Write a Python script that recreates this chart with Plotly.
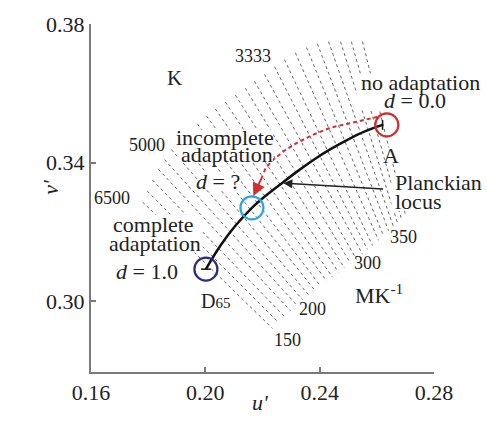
import plotly.graph_objects as go

# ---------------- data ----------------
# iso-temperature lines (mired), top-left and bottom-right ends in (u', v')
iso_mired = [150, 160, 170, 180, 190, 200, 210, 220, 230, 240, 250, 260, 270,
             280, 290, 300, 310, 320, 330, 340, 350, 360, 370, 380, 390]
iso_top_u = [0.1780, 0.1797, 0.1815, 0.1836, 0.1857, 0.1881, 0.1909, 0.1941, 0.1972,
             0.2004, 0.2035, 0.2070, 0.2105, 0.2140, 0.2172, 0.2207, 0.2242, 0.2277,
             0.2315, 0.2354, 0.2392, 0.2431, 0.2473, 0.2511, 0.2550]
iso_top_v = [0.3287, 0.3318, 0.3350, 0.3381, 0.3409, 0.3438, 0.3464, 0.3489, 0.3512,
             0.3535, 0.3555, 0.3575, 0.3595, 0.3615, 0.3635, 0.3655, 0.3677, 0.3697,
             0.3717, 0.3732, 0.3743, 0.3749, 0.3749, 0.3749, 0.3749]
iso_bot_u = [0.2235, 0.2256, 0.2277, 0.2298, 0.2319, 0.2340, 0.2361, 0.2382, 0.2403,
             0.2424, 0.2445, 0.2466, 0.2487, 0.2508, 0.2529, 0.2550, 0.2567, 0.2585,
             0.2606, 0.2623, 0.2641, 0.2658, 0.2672, 0.2686, 0.2700]
iso_bot_v = [0.2922, 0.2939, 0.2956, 0.2973, 0.2990, 0.3005, 0.3019, 0.3033, 0.3044,
             0.3059, 0.3070, 0.3084, 0.3096, 0.3110, 0.3121, 0.3136, 0.3150, 0.3161,
             0.3176, 0.3190, 0.3204, 0.3216, 0.3227, 0.3238, 0.3250]

# Planckian locus between D65 and A
locus_u = [0.2002, 0.2053, 0.2105, 0.2163, 0.2210, 0.2263, 0.2322, 0.2378,
           0.2438, 0.2497, 0.2560, 0.2620]
locus_v = [0.3093, 0.3161, 0.3218, 0.3270, 0.3304, 0.3338, 0.3375, 0.3408,
           0.3439, 0.3466, 0.3491, 0.3509]

# adaptation states: complete (D65), incomplete, none (A)
adapt_names = ["D65", "incomplete", "A"]
adapt_u = [0.2002, 0.2163, 0.2635]
adapt_v = [0.3093, 0.3270, 0.3509]

# red dashed adaptation path from A toward D65
path_u = [0.2602, 0.2525, 0.2438, 0.2378, 0.2322, 0.2277, 0.2238, 0.2210, 0.2203]
path_v = [0.3532, 0.3518, 0.3501, 0.3481, 0.3458, 0.3435, 0.3409, 0.3384, 0.3367]

kelvin_labels = ["6500", "5000", "3333", "2750"]
mired_labels = ["150", "200", "300", "350"]

x_ticks = [0.16, 0.20, 0.24, 0.28]
y_ticks = [0.30, 0.34, 0.38]

# ---------------- figure ----------------
SERIF = "Liberation Serif"
TXT = "#222222"

fig = go.Figure()

iso_x, iso_y = [], []
for tu, tv, bu, bv in zip(iso_top_u, iso_top_v, iso_bot_u, iso_bot_v):
    iso_x += [tu, bu, None]
    iso_y += [tv, bv, None]
fig.add_trace(go.Scatter(x=iso_x, y=iso_y, mode="lines",
                         line=dict(color="#666666", width=1, dash="3px,3px"),
                         hoverinfo="skip", showlegend=False))

fig.add_trace(go.Scatter(x=path_u, y=path_v, mode="lines",
                         line=dict(color="#d22f2f", width=2, dash="4px,3px"),
                         showlegend=False))

fig.add_trace(go.Scatter(x=locus_u, y=locus_v, mode="lines",
                         line=dict(color="#111111", width=2.5, shape="spline"),
                         showlegend=False))
fig.add_trace(go.Scatter(x=[locus_u[0], locus_u[-1]], y=[locus_v[0], locus_v[-1]],
                         mode="markers",
                         marker=dict(symbol=["line-ew", "line-ns"], size=7,
                                     line=dict(color="#111111", width=1.5)),
                         showlegend=False))

fig.add_trace(go.Scatter(x=adapt_u, y=adapt_v, mode="markers", text=adapt_names,
                         marker=dict(symbol="circle-open", size=23,
                                     color=["#2c2a88", "#2aa7e1", "#d42a2a"],
                                     line=dict(width=2.2)),
                         showlegend=False))

# white patches behind the text blocks (iso-lines stop at the labels)
cover_boxes = [
    (0.1903, 0.2236, 0.3401, 0.3495),   # incomplete adaptation
    (0.1972, 0.2123, 0.3321, 0.3370),   # d = ?
    (0.1657, 0.1990, 0.3141, 0.3250),   # complete adaptation
    (0.1671, 0.1920, 0.3059, 0.3113),   # d = 1.0
    (0.2529, 0.2980, 0.3555, 0.3657),   # no adaptation d = 0.0
    (0.2628, 0.2680, 0.3398, 0.3444),   # A
    (0.2651, 0.2984, 0.3261, 0.3370),   # Planckian locus
]
shapes = [dict(type="rect", xref="x", yref="y", x0=a, x1=b, y0=c, y1=d,
               fillcolor="white", line=dict(width=0), layer="above")
          for a, b, c, d in cover_boxes]

ann = []


def txt(x, y, s, size=22, xanchor="center"):
    ann.append(dict(x=x, y=y, xref="x", yref="y", text=s, showarrow=False,
                    xanchor=xanchor, yanchor="middle",
                    font=dict(family=SERIF, size=size, color=TXT)))


txt(0.1892, 0.3643, "K", 21)
for s, (x, y) in zip(kelvin_labels, [(0.1675, 0.3298), (0.1797, 0.3452),
                                     (0.2168, 0.3709), (0.2511, 0.3811)]):
    txt(x, y, s, 18)
for s, (x, y) in zip(mired_labels, [(0.2287, 0.2888), (0.2375, 0.2979),
                                    (0.2567, 0.3110), (0.2693, 0.3187)]):
    txt(x, y, s, 18)
txt(0.2609, 0.3022, "MK<sup>-1</sup>", 22)

txt(0.2753, 0.3632, "no adaptation", 22)
txt(0.2735, 0.3578, "<i>d</i> = 0.0", 22)
txt(0.2651, 0.3421, "A", 22)
txt(0.2658, 0.3343, "Planckian", 22, xanchor="left")
txt(0.2658, 0.3288, "locus", 22, xanchor="left")

txt(0.2070, 0.3474, "incomplete", 22)
txt(0.2077, 0.3425, "adaptation", 22)
txt(0.2046, 0.3347, "<i>d</i> = ?", 22)

txt(0.1818, 0.3223, "complete", 22)
txt(0.1825, 0.3168, "adaptation", 22)
txt(0.1797, 0.3087, "<i>d</i> = 1.0", 22)
txt(0.2035, 0.3002, "D<span style='font-size:15px'>65</span>", 20)

# arrows
ann.append(dict(x=0.2168, y=0.3304, ax=0.2203, ay=0.3367, xref="x", yref="y",
                axref="x", ayref="y", text="", showarrow=True, arrowhead=2,
                arrowsize=1.3, arrowwidth=2, arrowcolor="#d22f2f", standoff=0))
ann.append(dict(x=0.2273, y=0.3341, ax=0.2627, ay=0.3324, xref="x", yref="y",
                axref="x", ayref="y", text="", showarrow=True, arrowhead=2,
                arrowsize=1.2, arrowwidth=1.5, arrowcolor="#222222", standoff=0))

# axis titles
ann.append(dict(x=0.493, y=-0.128, xref="paper", yref="paper", text="<i>u'</i>",
                showarrow=False, font=dict(family=SERIF, size=22, color=TXT)))
ann.append(dict(x=-0.16, y=0.531, xref="paper", yref="paper", text="<i>v'</i>",
                showarrow=False, textangle=-90,
                font=dict(family=SERIF, size=22, color=TXT)))

axis_common = dict(showgrid=False, zeroline=False, showline=True,
                   linecolor="#7a7a7a", linewidth=2, ticks="inside",
                   ticklen=5, tickwidth=2, tickcolor="#7a7a7a",
                   tickfont=dict(family=SERIF, size=22, color=TXT), mirror=False)

fig.update_layout(
    width=487, height=434,
    margin=dict(l=91, r=53, t=20, b=62),
    paper_bgcolor="white", plot_bgcolor="white",
    xaxis=dict(range=[0.16, 0.28], tickvals=x_ticks,
               ticktext=[f"{t:.2f}" for t in x_ticks], **axis_common),
    yaxis=dict(range=[0.27964, 0.38], tickvals=y_ticks,
               ticktext=[f"{t:.2f}" for t in y_ticks], **axis_common),
    annotations=ann,
    shapes=shapes,
    showlegend=False,
)

fig.write_html("out.html",
               config={"displayModeBar": False},
               post_script="document.body.style.margin='0';"
                           "document.body.style.overflow='hidden';")
